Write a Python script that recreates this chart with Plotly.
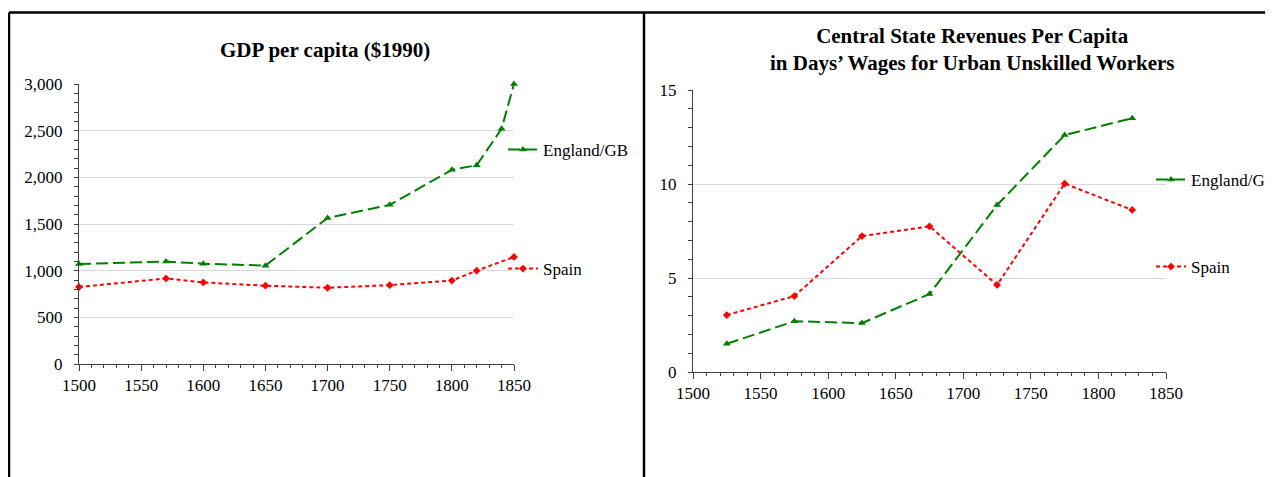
import plotly.graph_objects as go

W, H = 1273, 477

# ---- Data: GDP per capita ($1990)
gdp_eng_years = [1500, 1570, 1600, 1650, 1700, 1750, 1800, 1820, 1840, 1850]
gdp_eng = [1072, 1097, 1075, 1054, 1565, 1705, 2080, 2130, 2520, 3000]
gdp_spa_years = [1500, 1570, 1600, 1650, 1700, 1750, 1800, 1820, 1850]
gdp_spa = [825, 917, 874, 839, 817, 845, 894, 1000, 1147]

# ---- Data: Central state revenues per capita (days' wages)
rev_years = [1525, 1575, 1625, 1675, 1725, 1775, 1825]
rev_eng = [1.5, 2.7, 2.6, 4.15, 8.88, 12.6, 13.5]
rev_spa = [3.03, 4.04, 7.23, 7.75, 4.63, 10.02, 8.62]

left_title = "<b>GDP per capita ($1990)</b>"
right_title = "<b>Central State Revenues Per Capita<br>in Days\u2019 Wages for Urban Unskilled Workers</b>"

FONT = "Liberation Serif"
GREEN = "#008000"
RED = "#FF0000"
OFF = 8  # page body margin offset

def px_x(v):
    return (v - OFF) / W

def px_y(v):
    return 1 - (v - OFF) / H

fig = go.Figure()

eng_line = dict(color=GREEN, width=2, dash="12px,5px")
spa_line = dict(color=RED, width=2, dash="4px,3px")
eng_marker = dict(symbol="triangle-up", size=7, color=GREEN)
spa_marker = dict(symbol="diamond", size=6, color=RED)

fig.add_trace(go.Scatter(x=gdp_eng_years, y=gdp_eng, name="England/GB", mode="lines+markers",
                         line=eng_line, marker=eng_marker, xaxis="x", yaxis="y",
                         legend="legend", cliponaxis=False))
fig.add_trace(go.Scatter(x=gdp_spa_years, y=gdp_spa, name="Spain", mode="lines+markers",
                         line=spa_line, marker=spa_marker, xaxis="x", yaxis="y",
                         legend="legend2", cliponaxis=False))
fig.add_trace(go.Scatter(x=rev_years, y=rev_eng, name="England/GB", mode="lines+markers",
                         line=eng_line, marker=eng_marker, xaxis="x2", yaxis="y2",
                         legend="legend3", cliponaxis=False))
fig.add_trace(go.Scatter(x=rev_years, y=rev_spa, name="Spain", mode="lines+markers",
                         line=spa_line, marker=spa_marker, xaxis="x2", yaxis="y2",
                         legend="legend4", cliponaxis=False))

axis_common = dict(
    showline=True, linecolor="#404040", linewidth=1,
    ticks="outside", tickcolor="#404040", ticklen=6, tickwidth=1,
    tickfont=dict(family=FONT, size=17, color="black"),
    zeroline=False, automargin=False,
)

xaxis_common = dict(axis_common, range=[1500, 1850], dtick=50, tick0=1500, showgrid=False,
                    minor=dict(dtick=10, ticks="outside", ticklen=3, tickcolor="#404040", showgrid=False))

fig.update_layout(
    width=W, height=H,
    margin=dict(l=0, r=0, t=0, b=0),
    paper_bgcolor="white", plot_bgcolor="white",
    separators=".,",
    showlegend=True,
    xaxis=dict(xaxis_common, domain=[px_x(79), px_x(514)], anchor="y"),
    yaxis=dict(axis_common, domain=[px_y(364), px_y(84)], range=[0, 3000], dtick=500,
               tickformat=",d", showgrid=True, gridcolor="#D9D9D9", gridwidth=1, anchor="x", ticklen=4,
               ticklabelstandoff=8,
               minor=dict(dtick=100, ticks="outside", ticklen=4, tickcolor="#404040", showgrid=False)),
    xaxis2=dict(xaxis_common, domain=[px_x(693), px_x(1166)], anchor="y2"),
    yaxis2=dict(axis_common, domain=[px_y(372), px_y(90)], range=[0, 15], dtick=5,
                showgrid=True, gridcolor="#D9D9D9", gridwidth=1, anchor="x2", ticklen=4,
                ticklabelstandoff=8,
                minor=dict(dtick=1, ticks="outside", ticklen=4, tickcolor="#404040", showgrid=False)),
)

leg_common = dict(font=dict(family=FONT, size=17, color="black"), bgcolor="rgba(0,0,0,0)",
                  borderwidth=0, xanchor="left", yanchor="middle", itemwidth=30)
fig.update_layout(
    legend=dict(leg_common, x=px_x(503), y=px_y(150)),
    legend2=dict(leg_common, x=px_x(503), y=px_y(269)),
    legend3=dict(leg_common, x=px_x(1151), y=px_y(180)),
    legend4=dict(leg_common, x=px_x(1151), y=px_y(267)),
)

fig.add_annotation(text=left_title, x=px_x(325), y=px_y(50), xref="paper", yref="paper",
                   showarrow=False, font=dict(family=FONT, size=21, color="black"),
                   xanchor="center", yanchor="middle")
fig.add_annotation(text=right_title, x=px_x(972), y=px_y(50), xref="paper", yref="paper",
                   showarrow=False, font=dict(family=FONT, size=21, color="black"),
                   xanchor="center", yanchor="middle")

# frame lines
frame = dict(type="line", xref="paper", yref="paper", line=dict(color="black", width=2.5))
fig.add_shape(frame, x0=px_x(9), x1=1, y0=px_y(12.5), y1=px_y(12.5))
fig.add_shape(frame, x0=px_x(9), x1=px_x(9), y0=px_y(12.5), y1=0)
fig.add_shape(frame, x0=px_x(644), x1=px_x(644), y0=px_y(12.5), y1=0)

fig.write_html("out.html")
